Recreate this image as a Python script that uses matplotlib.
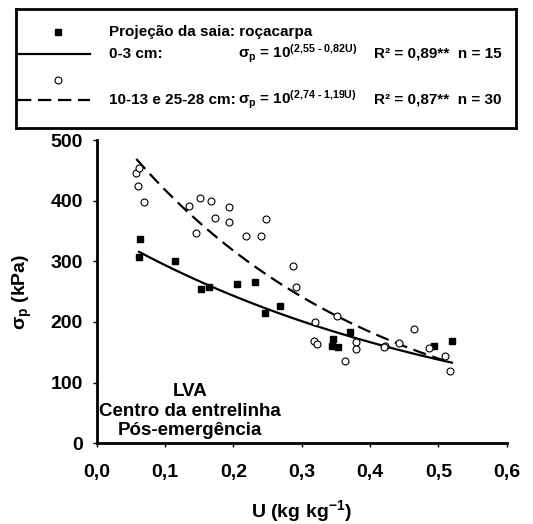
import matplotlib
matplotlib.use("Agg")
import matplotlib.pyplot as plt
import numpy as np

plt.rcParams['font.family'] = ['Liberation Sans', 'DejaVu Sans']
plt.rcParams['font.weight'] = 'bold'
plt.rcParams['axes.labelweight'] = 'bold'
plt.rcParams['mathtext.fontset'] = 'custom'
plt.rcParams['mathtext.rm'] = 'Liberation Sans:bold'
plt.rcParams['mathtext.it'] = 'Liberation Sans:bold'
plt.rcParams['mathtext.bf'] = 'Liberation Sans:bold'

# 0-3 cm (quadrados)
u_sup = [0.064, 0.062, 0.114, 0.152, 0.165, 0.206, 0.232, 0.247, 0.268,
         0.346, 0.344, 0.353, 0.371, 0.493, 0.520]
s_sup = [337, 307, 300, 254, 258, 262, 266, 214, 227,
         172, 161, 158, 183, 160, 168]

# 10-13 e 25-28 cm (circulos)
u_sub = [0.058, 0.062, 0.060, 0.069, 0.135, 0.151, 0.167, 0.173, 0.146, 0.193,
         0.193, 0.219, 0.240, 0.248, 0.287, 0.292, 0.319, 0.318, 0.323, 0.352,
         0.379, 0.379, 0.363, 0.422, 0.420, 0.443, 0.465, 0.486, 0.509, 0.517]
s_sub = [446, 454, 424, 397, 391, 404, 400, 371, 347, 389,
         365, 342, 342, 369, 293, 257, 200, 169, 163, 210,
         167, 156, 136, 161, 158, 166, 188, 157, 144, 120]

# coeficientes das curvas ajustadas
a1, b1 = 2.55, 0.82
a2, b2 = 2.74, 1.19

fig = plt.figure(figsize=(5.33, 5.24), dpi=100)
ax = fig.add_axes([0.1814, 0.154, 0.7693, 0.5788])

u1 = np.linspace(min(u_sup), max(u_sup), 100)
u2 = np.linspace(min(u_sub), max(u_sub), 100)
ax.plot(u1, 10 ** (a1 - b1 * u1), color='black', lw=1.6)
ax.plot(u2, 10 ** (a2 - b2 * u2), color='black', lw=1.6, dashes=(6, 3))
ax.plot(u_sup, s_sup, 's', color='black', ms=5)
ax.plot(u_sub, s_sub, 'o', mfc='white', mec='black', mew=0.8, ms=5)

ax.set_xlim(0, 0.6)
ax.set_ylim(0, 500)
ax.set_xticks(np.arange(0, 0.61, 0.1))
ax.set_xticklabels(['0,0', '0,1', '0,2', '0,3', '0,4', '0,5', '0,6'])
ax.set_yticks(range(0, 501, 100))
for s in ['top', 'right']:
    ax.spines[s].set_visible(False)
for s in ['left', 'bottom']:
    ax.spines[s].set_linewidth(2)
ax.tick_params(direction='out', length=3, width=1, labelsize=14)
ax.tick_params(axis='x', pad=12)
ax.tick_params(axis='y', pad=7)
ax.set_xlabel(r'U (kg kg$^\mathrm{-1}$)', fontsize=14, labelpad=12)
ax.set_ylabel(r'$\sigma_\mathrm{p}$ (kPa)', fontsize=14, labelpad=12)

ax.text(0.136, 53, 'LVA\nCentro da entrelinha\nPós-emergência', ha='center',
        va='center', fontsize=13.5, linespacing=1.2)

# caixa da legenda
lg = fig.add_axes([16 / 533, 1 - 128 / 524, 500 / 533, 119 / 524])
lg.set_xlim(0, 500)
lg.set_ylim(119, 0)
lg.set_xticks([])
lg.set_yticks([])
for s in lg.spines.values():
    s.set_linewidth(2)
rows = [23, 45, 71, 91]
lg.plot([42], [rows[0]], 's', color='black', ms=5)
lg.plot([2, 74], [rows[1], rows[1]], color='black', lw=1.6)
lg.plot([42], [rows[2]], 'o', mfc='white', mec='black', mew=0.8, ms=5)
lg.plot([2, 74], [rows[3], rows[3]], color='black', lw=1.6, dashes=(6, 3))
fs = 11
lg.text(93, rows[0], 'Projeção da saia: roçacarpa', fontsize=fs, va='center')
lg.text(93, rows[1], '0-3 cm:', fontsize=fs, va='center')
lg.text(222, rows[1], r'$\sigma_\mathrm{p}$ = 10$^\text{(2,55 - 0,82U)}$',
        fontsize=fs, va='center')
lg.text(358, rows[1], 'R² = 0,89**  n = 15', fontsize=fs, va='center')
lg.text(93, rows[3], '10-13 e 25-28 cm:', fontsize=fs, va='center')
lg.text(222, rows[3], r'$\sigma_\mathrm{p}$ = 10$^\text{(2,74 - 1,19U)}$',
        fontsize=fs, va='center')
lg.text(358, rows[3], 'R² = 0,87**  n = 30', fontsize=fs, va='center')

fig.savefig('out.png', dpi=100)
